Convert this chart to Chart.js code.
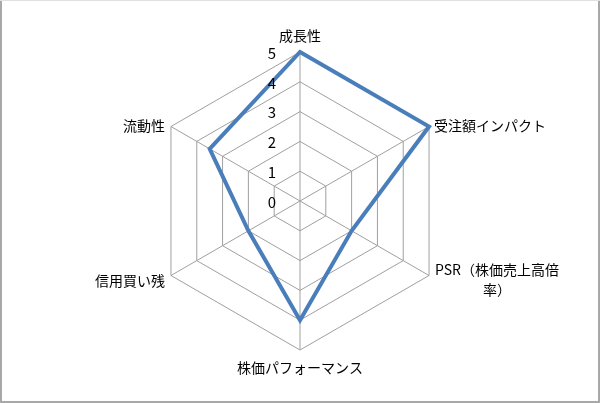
<!DOCTYPE html>
<html>
<head>
<meta charset="utf-8">
<script src="https://cdn.jsdelivr.net/npm/chart.js@4/dist/chart.umd.min.js"></script>
<style>
html,body{margin:0;padding:0;background:#fff;}
#wrap{width:600px;height:403px;position:relative;}
</style>
</head>
<body>
<div id="wrap"><canvas id="c" width="600" height="403"></canvas></div>
<script>
const categories = ["成長性", "受注額インパクト", "PSR（株価売上高倍率）", "株価パフォーマンス", "信用買い残", "流動性"];
const seriesValues = [5, 5, 2, 4, 2, 3.5];
const tickLabels = ["0", "1", "2", "3", "4", "5"];

const FONT = '"Noto Sans CJK JP", "Noto Sans", sans-serif';

const bgBorder = {
  id: 'bgBorder',
  beforeDraw(chart) {
    const ctx = chart.ctx;
    ctx.save();
    ctx.fillStyle = '#ffffff';
    ctx.fillRect(0, 0, chart.width, chart.height);
    ctx.fillStyle = '#a8a8a8';
    ctx.fillRect(0, 0, 2, chart.height);
    ctx.fillRect(chart.width - 2, 0, 2, chart.height);
    ctx.fillRect(0, chart.height - 2, chart.width, 2);
    ctx.fillStyle = '#e0e0e0';
    ctx.fillRect(0, 0, chart.width, 1);
    ctx.restore();
  }
};

const labelsPlugin = {
  id: 'customLabels',
  afterDraw(chart) {
    const scale = chart.scales.r;
    const ctx = chart.ctx;
    ctx.save();
    ctx.fillStyle = '#000000';
    // tick labels
    ctx.font = '15px ' + FONT;
    ctx.textAlign = 'right';
    ctx.textBaseline = 'middle';
    tickLabels.forEach((t) => {
      const d = scale.getDistanceFromCenterForValue(Number(t));
      ctx.fillText(t, scale.xCenter - 24, scale.yCenter - d + 1);
    });
    // point labels
    ctx.font = '14px ' + FONT;
    const R = scale.drawingArea;
    categories.forEach((lab, i) => {
      const p = scale.getPointPosition(i, R);
      ctx.textBaseline = 'middle';
      if (i === 0) {
        ctx.textAlign = 'center';
        ctx.fillText(lab, p.x, p.y - 16);
      } else if (i === 1) {
        ctx.textAlign = 'left';
        ctx.fillText(lab, p.x + 5, p.y - 1);
      } else if (i === 2) {
        const l1 = lab.slice(0, lab.length - 2);
        const l2 = lab.slice(lab.length - 2);
        ctx.textAlign = 'left';
        const x0 = p.x + 6;
        ctx.fillText(l1, x0, p.y - 6);
        const w = ctx.measureText(l1).width;
        ctx.textAlign = 'center';
        ctx.fillText(l2, x0 + w / 2, p.y + 14);
      } else if (i === 3) {
        ctx.textAlign = 'center';
        ctx.fillText(lab, p.x, p.y + 18);
      } else if (i === 4) {
        ctx.textAlign = 'right';
        ctx.fillText(lab, p.x - 6, p.y + 5);
      } else {
        ctx.textAlign = 'right';
        ctx.fillText(lab, p.x - 6, p.y - 1);
      }
    });
    ctx.restore();
  }
};

new Chart(document.getElementById('c'), {
  type: 'radar',
  data: {
    labels: categories,
    datasets: [{
      data: seriesValues,
      borderColor: '#4a7ebb',
      borderWidth: 4,
      fill: false,
      pointRadius: 0,
      pointHoverRadius: 0,
      tension: 0,
      borderJoinStyle: 'miter'
    }]
  },
  options: {
    responsive: false,
    animation: false,
    devicePixelRatio: 1,
    layout: { padding: { top: 52, bottom: 53, left: 0, right: 0 } },
    plugins: { legend: { display: false }, tooltip: { enabled: false } },
    scales: {
      r: {
        min: 0,
        max: 5,
        ticks: { stepSize: 1, display: false },
        pointLabels: { display: false },
        grid: { color: '#a0a0a0', lineWidth: 1 },
        angleLines: { color: '#a0a0a0', lineWidth: 1 }
      }
    }
  },
  plugins: [bgBorder, labelsPlugin]
});
</script>
</body>
</html>
